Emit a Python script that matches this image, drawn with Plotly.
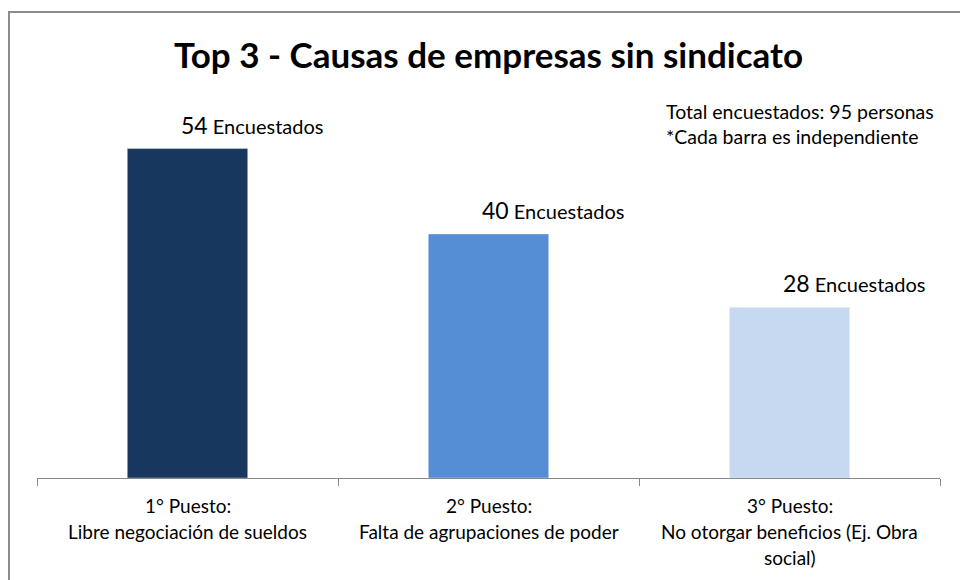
import plotly.graph_objects as go

# Datos
puestos = ["1° Puesto", "2° Puesto", "3° Puesto"]
causas = [
    ["Libre negociación de sueldos"],
    ["Falta de agrupaciones de poder"],
    ["No otorgar beneficios (Ej. Obra", "social)"],
]
encuestados = [54, 40, 28]
colores = ["#17375E", "#558ED5", "#C6D9F1"]
titulo = "Top 3 - Causas de empresas sin sindicato"
notas = ["Total encuestados: 95 personas", "*Cada barra es independiente"]

FONT = "Lato"
W, H = 960, 580
# área de trazado en píxeles de pantalla: x 37..940, eje en y=478
L, T = 37, 112
R = W - 940
B = H - 478
PW, PH = W - L - R, H - T - B


def px_to_paper(xs, ys):
    """Coordenadas de pantalla -> coordenadas paper del área de trazado."""
    return (xs - L) / PW, (H - B - ys) / PH


fig = go.Figure(
    go.Bar(
        x=puestos,
        y=encuestados,
        width=0.4,
        marker=dict(color=colores, line=dict(color="rgba(255,255,255,0.35)", width=1)),
        hoverinfo="skip",
    )
)

# etiquetas de datos: número grande + "Encuestados", desplazadas a la derecha
for p, v in zip(puestos, encuestados):
    fig.add_annotation(
        x=p, y=v, xref="x", yref="y",
        text=f"<span style='font-size:23px'>{v}</span> Encuestados",
        showarrow=False, xshift=64, yshift=24, yanchor="middle",
        font=dict(family=FONT, size=20, color="#000000"),
    )

# etiquetas de categoría (una anotación por línea para imitar el interlineado)
for p, lineas in zip(puestos, causas):
    for i, linea in enumerate([p + ":"] + lineas):
        fig.add_annotation(
            x=p, y=0, xref="x", yref="y",
            text=linea, showarrow=False, yanchor="middle",
            yshift=-27 - 26 * i,
            font=dict(family=FONT, size=19, color="#000000"),
        )

for i, nota in enumerate(notas):
    nx, ny = px_to_paper(664, 111 + 25 * i)
    fig.add_annotation(
        x=nx, y=ny, xref="paper", yref="paper",
        text=nota, showarrow=False, xanchor="left", yanchor="middle",
        font=dict(family=FONT, size=19.5, color="#000000"),
    )

fig.update_layout(
    width=W, height=H, autosize=False,
    margin=dict(l=L, r=R, t=T, b=B),
    paper_bgcolor="white", plot_bgcolor="white",
    showlegend=False,
    title=dict(
        text=f"<b>{titulo}</b>", x=0.5, xanchor="center", xref="paper",
        y=1 - 56 / H, yanchor="middle", yref="container",
        font=dict(family=FONT, size=35, color="#000000"),
    ),
    xaxis=dict(
        showline=True, linecolor="#888888", linewidth=1,
        ticks="outside", tickson="boundaries", ticklen=7, tickcolor="#888888",
        showticklabels=False, showgrid=False, fixedrange=True,
    ),
    yaxis=dict(
        range=[0, 60], visible=False, showgrid=False, fixedrange=True,
    ),
)

# marco gris del gráfico (se sale por la derecha y por abajo)
x0, y0 = px_to_paper(9, 12)
x1, y1 = px_to_paper(985, 600)
fig.add_shape(
    type="rect", xref="paper", yref="paper",
    x0=x0, x1=x1, y0=y1, y1=y0,
    line=dict(color="#8c8c8c", width=2), fillcolor="rgba(0,0,0,0)", layer="below",
)

# sin margen de página ni barras de desplazamiento
fig.write_html(
    "out.html",
    config={"displayModeBar": False},
    post_script="document.body.style.margin='0';document.body.style.overflow='hidden';",
)
